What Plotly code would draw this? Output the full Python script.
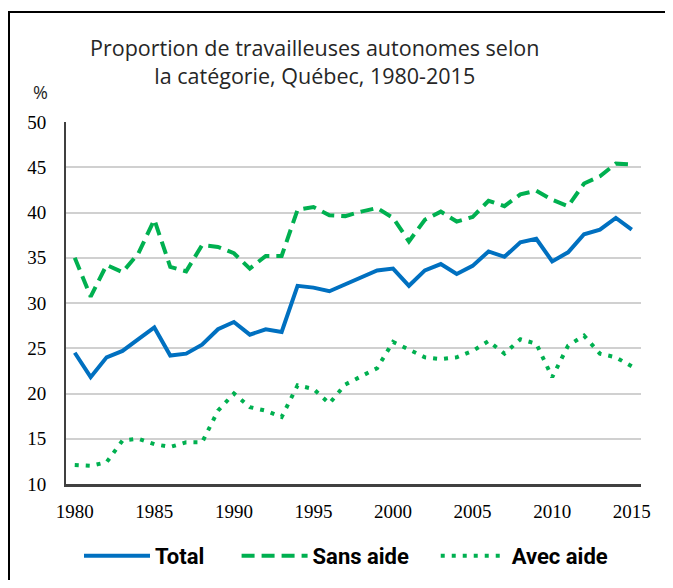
import plotly.graph_objects as go

# ── données ──────────────────────────────────────────────────────────────────
annees = list(range(1980, 2016))

total = [24.5, 21.8, 24.0, 24.7, 26.0, 27.3, 24.2, 24.4, 25.4, 27.1,
         27.9, 26.5, 27.1, 26.8, 31.9, 31.7, 31.3, 32.1, 32.9, 33.6,
         33.8, 31.9, 33.6, 34.3, 33.2, 34.1, 35.7, 35.1, 36.7, 37.1,
         34.6, 35.6, 37.6, 38.1, 39.4, 38.1]

sans_aide = [35.0, 30.7, 34.2, 33.4, 35.5, 39.2, 34.0, 33.5, 36.4, 36.2,
             35.5, 33.8, 35.2, 35.2, 40.3, 40.6, 39.7, 39.6, 40.1, 40.5,
             39.4, 36.8, 39.2, 40.1, 39.0, 39.5, 41.3, 40.7, 42.0, 42.4,
             41.4, 40.7, 43.2, 44.0, 45.4, 45.3]

avec_aide = [12.1, 12.0, 12.4, 14.8, 15.0, 14.4, 14.1, 14.6, 14.6, 18.1,
             20.0, 18.5, 18.1, 17.4, 20.9, 20.5, 18.9, 21.0, 21.9, 22.8,
             25.7, 24.9, 24.0, 23.8, 24.0, 24.7, 25.8, 24.4, 26.0, 25.5,
             21.8, 25.3, 26.4, 24.4, 24.0, 23.0]

BLEU = "#0070C0"
VERT = "#00B050"
NB = "\u00a0"

fig = go.Figure()
fig.add_trace(go.Scatter(x=annees, y=total, name="Total" + NB * 5, mode="lines",
                         line=dict(color=BLEU, width=4)))
fig.add_trace(go.Scatter(x=annees, y=sans_aide, name="Sans aide" + NB * 4, mode="lines",
                         line=dict(color=VERT, width=4, dash="13px,7px")))
fig.add_trace(go.Scatter(x=annees, y=avec_aide, name="Avec aide", mode="lines",
                         line=dict(color=VERT, width=4, dash="4px,7px")))

# ── mise en page ─────────────────────────────────────────────────────────────
# la page html a une marge de 8 px : on décale tout de 8 px
OFF = 8
W, H = 673 - OFF - 8, 588 - OFF - 8
L, R, T, B = 66 - OFF, 32 - 8, 122 - OFF, 104 - 8
pw, ph = W - L - R, H - T - B

def px_x(p):  # p = pixel de l'image de référence
    return (p - OFF - L) / pw

def px_y(p):
    return (H - B - (p - OFF)) / ph

fig.update_layout(
    template="none",
    width=W, height=H,
    margin=dict(l=L, r=R, t=T, b=B, pad=0, autoexpand=False),
    paper_bgcolor="white", plot_bgcolor="white",
    font=dict(family="Liberation Serif, serif", size=19, color="#000"),
    showlegend=True,
    legend=dict(
        orientation="h", x=px_x(346), xanchor="center",
        y=px_y(556), yanchor="middle",
        font=dict(family="Liberation Sans Narrow, Roboto, sans-serif", size=22,
                  color="#000", weight="bold"),
        itemwidth=66, bgcolor="rgba(0,0,0,0)", borderwidth=0,
    ),
    xaxis=dict(
        range=[1979.45, 2015.58], tickmode="array",
        tickvals=[1980, 1985, 1990, 1995, 2000, 2005, 2010, 2015],
        showgrid=False, zeroline=False, automargin=False,
        showline=True, linecolor="#404040", linewidth=2.5,
        ticks="", ticklabelstandoff=8,
    ),
    yaxis=dict(
        range=[10, 50], dtick=5, automargin=False,
        showgrid=True, gridcolor="#d0d0d0", gridwidth=1.5, zeroline=False,
        showline=True, linecolor="#404040", linewidth=2,
        ticks="", ticklabelstandoff=14,
    ),
    annotations=[
        dict(text="Proportion de travailleuses autonomes selon<br>la catégorie, Québec, 1980-2015",
             xref="paper", yref="paper", x=px_x(314), y=px_y(61),
             xanchor="center", yanchor="middle", showarrow=False,
             font=dict(family="Open Sans, sans-serif", size=21.5, color="#262626")),
        dict(text="%", xref="paper", yref="paper", x=px_x(40), y=px_y(92),
             xanchor="center", yanchor="middle", showarrow=False,
             font=dict(family="Open Sans, sans-serif", size=18, color="#262626")),
    ],
    shapes=[
        dict(type="line", xref="paper", yref="paper",
             x0=px_x(8), x1=px_x(700), y0=px_y(12), y1=px_y(12),
             line=dict(color="#000", width=2)),
        dict(type="line", xref="paper", yref="paper",
             x0=px_x(9), x1=px_x(9), y0=px_y(12), y1=px_y(620),
             line=dict(color="#000", width=2)),
    ],
)

fig.write_html("out.html")
